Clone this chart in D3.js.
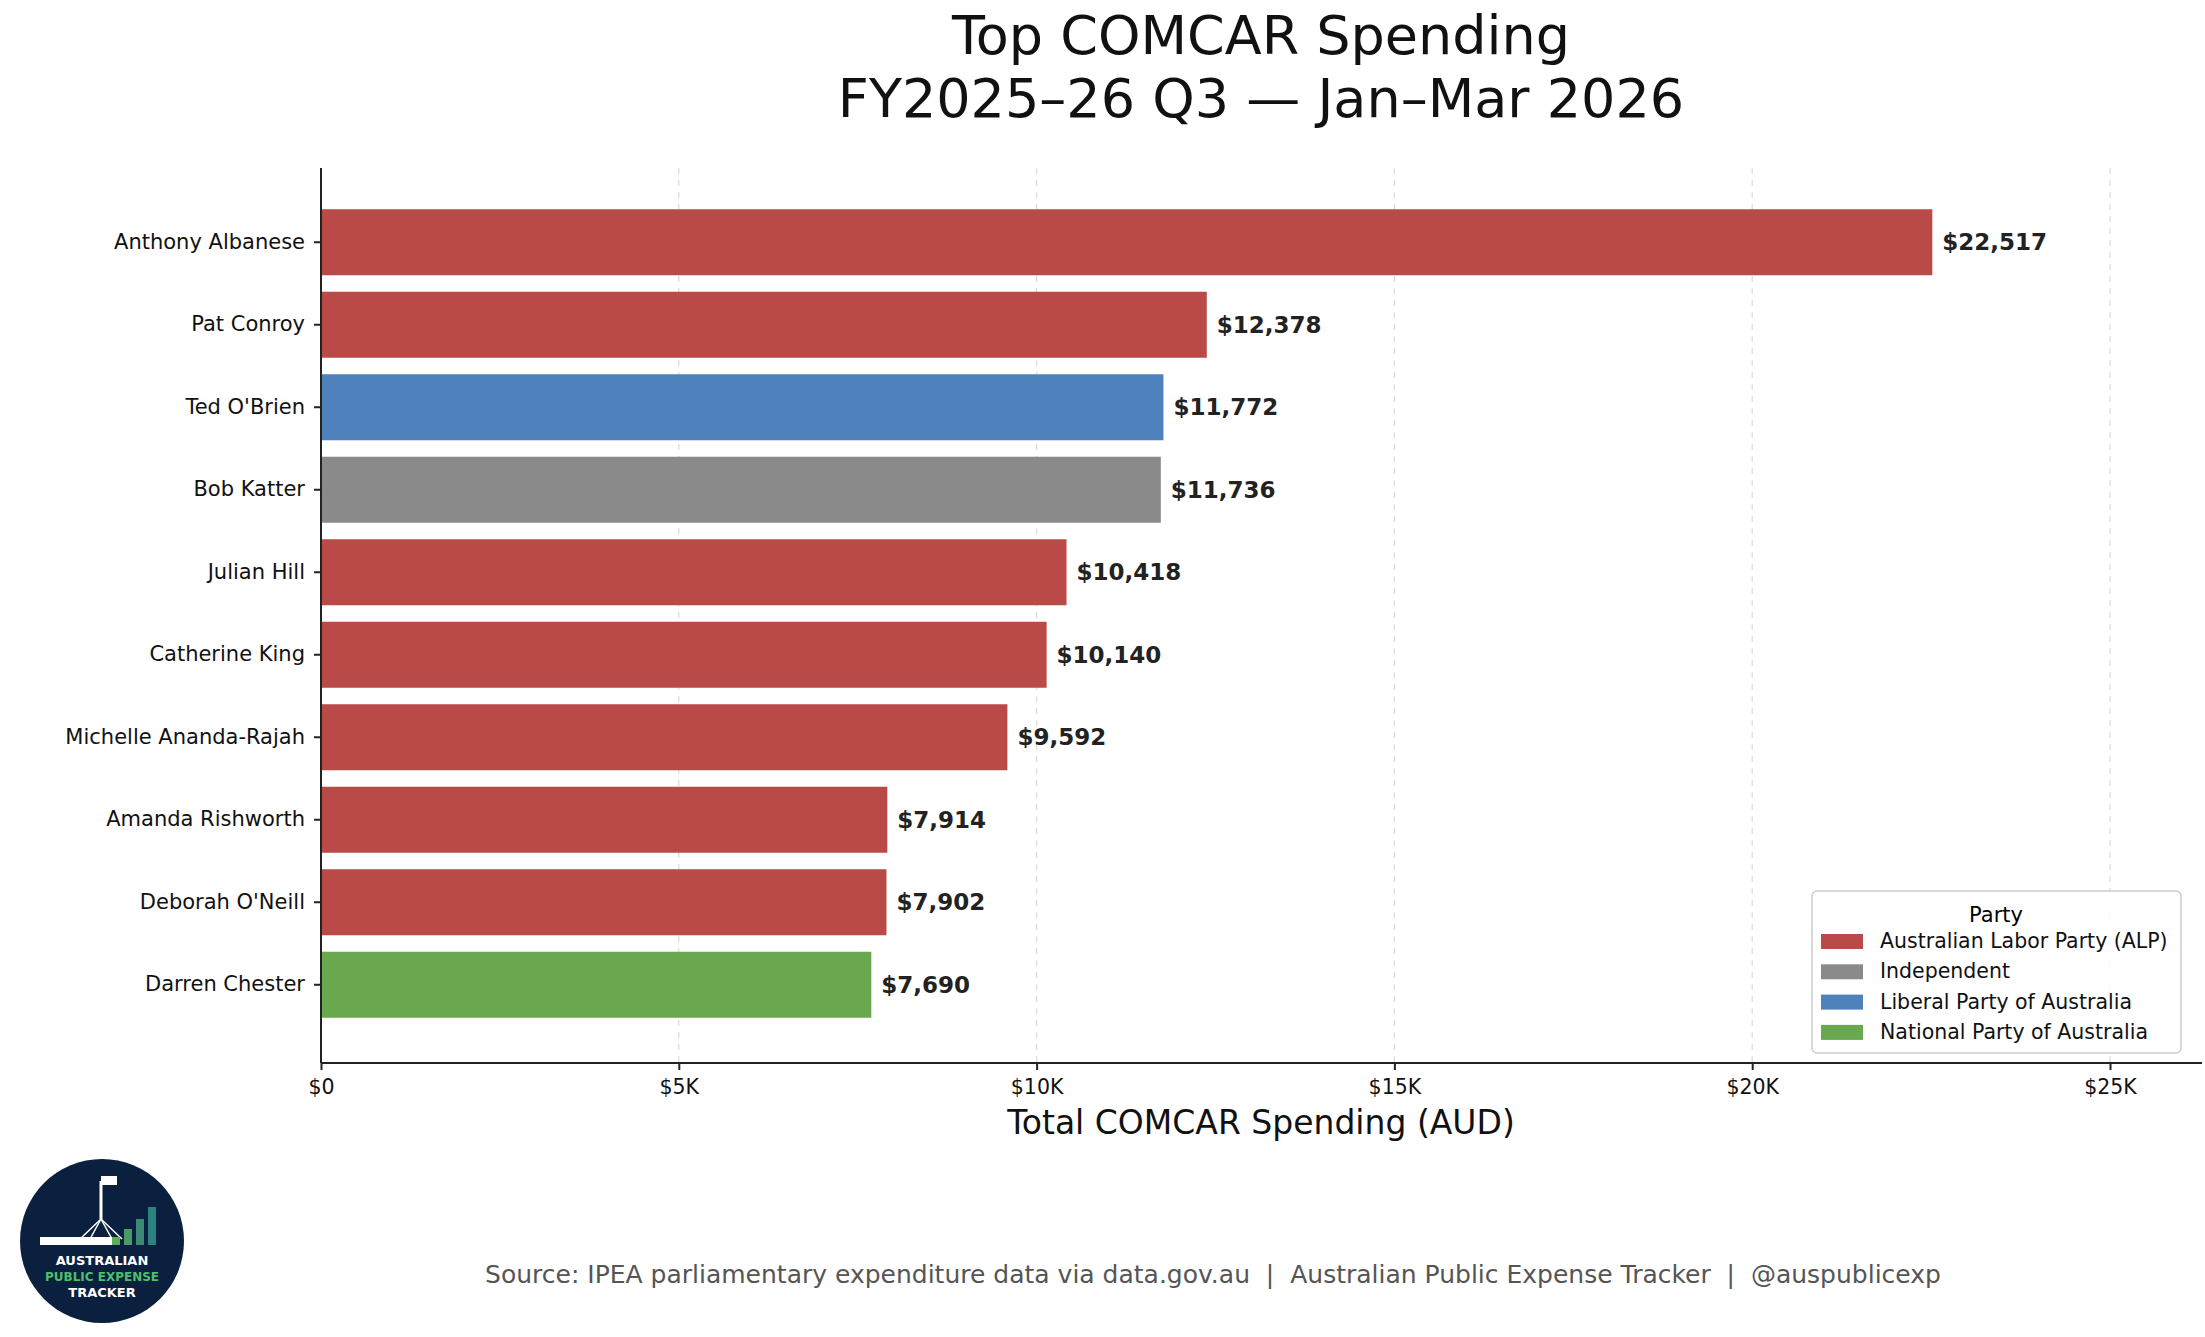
<!DOCTYPE html>
<html><head><meta charset="utf-8">
<script src="https://cdn.jsdelivr.net/npm/d3@7"></script>
<style>body{margin:0;background:#fff}text{font-family:"DejaVu Sans",sans-serif}</style>
</head><body><svg id="c" width="2205" height="1337"></svg>
<script>
const names = ["Anthony Albanese","Pat Conroy","Ted O'Brien","Bob Katter","Julian Hill","Catherine King","Michelle Ananda-Rajah","Amanda Rishworth","Deborah O'Neill","Darren Chester"];
const values = [22517,12378,11772,11736,10418,10140,9592,7914,7902,7690];
const parties = ["ALP","ALP","LIB","IND","ALP","ALP","ALP","ALP","ALP","NAT"];
const partyKeys = ["ALP","IND","LIB","NAT"];
const partyNames = ["Australian Labor Party (ALP)","Independent","Liberal Party of Australia","National Party of Australia"];
const partyColors = ["#B94A48","#8A8A8A","#4F81BD","#6AA84F"];
const xTicks = [0,5000,10000,15000,20000,25000];

const svg = d3.select('#c');
const color = d3.scaleOrdinal(partyKeys, partyColors);
const x = d3.scaleLinear().domain([0,25000]).range([321,2110]);
const y = d3.scaleBand().domain(names).range([201,1026]).paddingInner(0.2).paddingOuter(0.1);

svg.append('text').attr('x',1261).attr('y',54).attr('text-anchor','middle').attr('font-size',54).attr('fill','#111').text('Top COMCAR Spending');
svg.append('text').attr('x',1261).attr('y',117).attr('text-anchor','middle').attr('font-size',54).attr('fill','#111').text('FY2025–26 Q3 — Jan–Mar 2026');

// grid
svg.append('g').selectAll('line').data(xTicks.slice(1)).join('line')
  .attr('x1',d=>x(d)).attr('x2',d=>x(d)).attr('y1',168).attr('y2',1063)
  .attr('stroke','#ddd').attr('stroke-dasharray','6,6').attr('stroke-width',1.3);

svg.append('g').selectAll('rect').data(names).join('rect')
  .attr('x',x(0)).attr('y',d=>y(d)).attr('height',y.bandwidth())
  .attr('width',(d,i)=>x(values[i])-x(0)).attr('fill',(d,i)=>color(parties[i]));

svg.append('g').selectAll('text').data(names).join('text')
  .attr('x',(d,i)=>x(values[i])+10).attr('y',d=>y(d)+y.bandwidth()/2).attr('dy','0.35em')
  .attr('font-size',23).attr('font-weight','bold').attr('fill','#222')
  .text((d,i)=>'$'+d3.format(',')(values[i]));

const xa = svg.append('g').attr('transform','translate(0,1063)')
  .call(d3.axisBottom(x).tickValues(xTicks).tickSize(7).tickPadding(9).tickFormat(d=>d===0?'$0':'$'+d/1000+'K'));
xa.select('.domain').attr('d','M321,0H2202');
xa.selectAll('text').attr('font-size',20.5).attr('fill','#111');
const ya = svg.append('g').attr('transform','translate(321,0)')
  .call(d3.axisLeft(y).tickSize(7).tickPadding(9));
ya.select('.domain').attr('d','M0,168V1063');
ya.selectAll('text').attr('font-size',21).attr('fill','#111');
svg.selectAll('.domain').attr('stroke','#222').attr('stroke-width',2);
svg.selectAll('.tick line').attr('stroke','#222').attr('stroke-width',2);

svg.append('text').attr('x',1261).attr('y',1134).attr('text-anchor','middle').attr('font-size',33).attr('fill','#111').text('Total COMCAR Spending (AUD)');

// legend
const lg = svg.append('g').attr('transform','translate(-10,0)');
lg.append('rect').attr('x',1822).attr('y',891).attr('width',369).attr('height',162).attr('rx',5)
  .attr('fill','#fff').attr('fill-opacity',0.85).attr('stroke','#ccc').attr('stroke-width',1.5);
lg.append('text').attr('x',2006).attr('y',922).attr('text-anchor','middle').attr('font-size',21).text('Party');
const li = lg.selectAll('g.i').data(partyKeys).join('g').attr('class','i')
  .attr('transform',(d,i)=>`translate(0,${941+i*30.3})`);
li.append('rect').attr('x',1831).attr('y',-7).attr('width',42).attr('height',15).attr('fill',d=>color(d));
li.append('text').attr('x',1890).attr('y',0).attr('dy','0.35em').attr('font-size',20.5).attr('fill','#111').text((d,i)=>partyNames[i]);

svg.append('text').attr('x',1213).attr('y',1283).attr('text-anchor','middle').attr('font-size',25).attr('fill','#555')
  .style('white-space','pre')
  .text('Source: IPEA parliamentary expenditure data via data.gov.au  |  Australian Public Expense Tracker  |  @auspublicexp');

// logo
const lo = svg.append('g').attr('transform','translate(102,1241)');
lo.append('circle').attr('r',82).attr('fill','#0B1F3F');
lo.append('line').attr('x1',-1).attr('x2',-1).attr('y1',-60).attr('y2',-22).attr('stroke','#fff').attr('stroke-width',3);
lo.append('rect').attr('x',-1).attr('y',-65).attr('width',16).attr('height',9).attr('fill','#fff');
[-22,-12,10,20].forEach(dx=>lo.append('line').attr('x1',-1).attr('y1',-22).attr('x2',dx).attr('y2',-2).attr('stroke','#fff').attr('stroke-width',1.5));
lo.append('rect').attr('x',-62).attr('y',-4).attr('width',72).attr('height',8).attr('fill','#fff');
const lb = [[12,8,'#5DAE5A'],[24,16,'#4A9A67'],[36,26,'#3C8A73'],[48,38,'#2D8080']];
lb.forEach(b=>lo.append('rect').attr('x',b[0]-2).attr('y',4-b[1]).attr('width',8).attr('height',b[1]).attr('fill',b[2]));
lo.append('text').attr('y',24).attr('text-anchor','middle').attr('font-size',13).attr('font-weight','bold').attr('fill','#fff').text('AUSTRALIAN');
lo.append('text').attr('y',40).attr('text-anchor','middle').attr('font-size',12).attr('font-weight','bold').attr('fill','#4CC06A').text('PUBLIC EXPENSE');
lo.append('text').attr('y',56).attr('text-anchor','middle').attr('font-size',13).attr('font-weight','bold').attr('fill','#fff').text('TRACKER');
</script></body></html>
